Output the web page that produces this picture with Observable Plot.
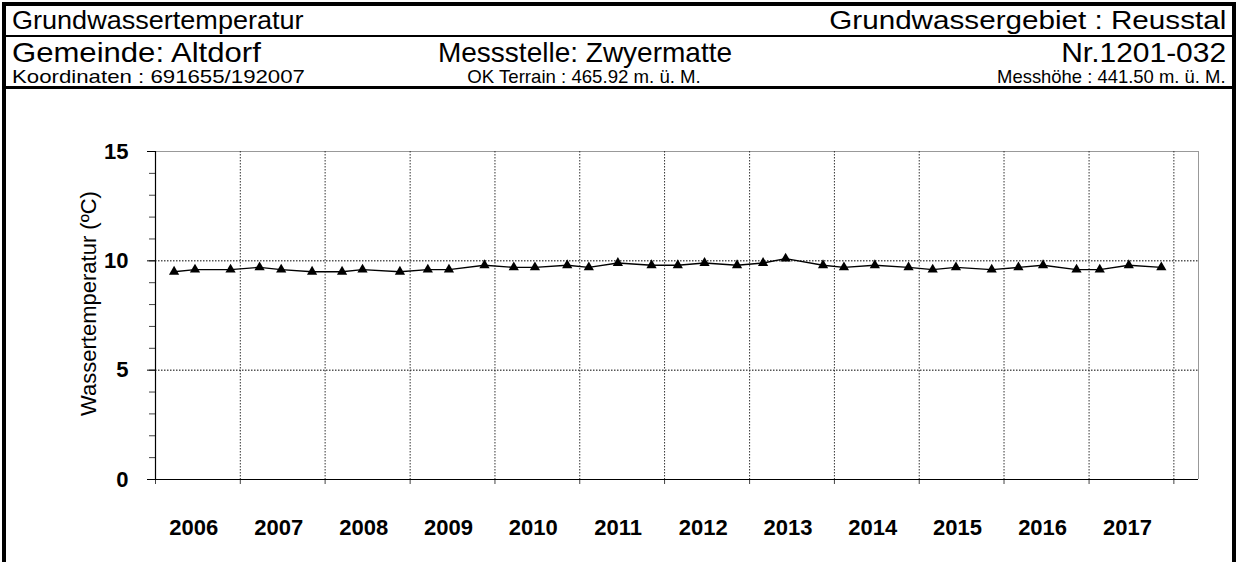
<!DOCTYPE html>
<html>
<head>
<meta charset="utf-8">
<script src="https://cdn.jsdelivr.net/npm/d3@7"></script>
<script src="https://cdn.jsdelivr.net/npm/@observablehq/plot@0.6"></script>
<style>
  body { margin: 0; background: #fff; font-family: Arial, "Liberation Sans", sans-serif; }
  #wrap { position: relative; width: 1238px; height: 562px; overflow: hidden; background: #fff; }
  .hl { position: absolute; background: #000; z-index: 2; }
  .t { position: absolute; white-space: nowrap; color: #000; line-height: 1; z-index: 2; }
  .l { transform-origin: left center; }
  .r { transform-origin: right center; }
  #chart { position: absolute; left: 0; top: 90px; z-index: 1; }
  #chart svg { display: block; }
</style>
</head>
<body>
<div id="wrap">
  <div id="chart"></div>
  <div class="hl" style="left:2px;top:2px;width:1234px;height:4px"></div>
  <div class="hl" style="left:2px;top:2px;width:4px;height:560px"></div>
  <div class="hl" style="left:1232px;top:2px;width:4px;height:560px"></div>
  <div class="hl" style="left:2px;top:35px;width:1234px;height:2px"></div>
  <div class="hl" style="left:2px;top:86px;width:1234px;height:3px"></div>

  <div class="t l" style="left:12px;top:7px;font-size:26px;transform:scaleX(1.04)">Grundwassertemperatur</div>
  <div class="t r" style="right:12px;top:7px;font-size:26px;transform:scaleX(1.14)">Grundwassergebiet : Reusstal</div>

  <div class="t l" style="left:12px;top:39px;font-size:28px;transform:scaleX(1.11)">Gemeinde: Altdorf</div>
  <div class="t" style="left:585px;top:39px;font-size:28px;transform:translateX(-50%) scaleX(1.0)">Messstelle: Zwyermatte</div>
  <div class="t r" style="right:12px;top:39px;font-size:28px;transform:scaleX(1.07)">Nr.1201-032</div>

  <div class="t l" style="left:12px;top:67px;font-size:19px;transform:scaleX(1.17)">Koordinaten : 691655/192007</div>
  <div class="t" style="left:584px;top:67px;font-size:19px;transform:translateX(-50%) scaleX(0.98)">OK Terrain : 465.92 m. ü. M.</div>
  <div class="t r" style="right:12px;top:67px;font-size:19px;transform:scaleX(0.97)">Messhöhe : 441.50 m. ü. M.</div>
</div>
<script>
// ---- data ----
const dates = [
  "2006-03-22","2006-06-20","2006-11-20",
  "2007-03-25","2007-06-26","2007-11-06",
  "2008-03-14","2008-06-10","2008-11-18",
  "2009-03-18","2009-06-17","2009-11-17",
  "2010-03-23","2010-06-22","2010-11-08",
  "2011-02-09","2011-06-14","2011-11-06",
  "2012-02-27","2012-06-21","2012-11-08",
  "2013-02-28","2013-06-05","2013-11-13",
  "2014-02-11","2014-06-24","2014-11-16",
  "2015-02-28","2015-06-08","2015-11-09",
  "2016-03-03","2016-06-17","2016-11-08",
  "2017-02-16","2017-06-21","2017-11-08"
];
const temps = [
  9.5, 9.6, 9.6,
  9.7, 9.6, 9.5,
  9.5, 9.6, 9.5,
  9.6, 9.6, 9.8,
  9.7, 9.7, 9.8,
  9.7, 9.9, 9.8,
  9.8, 9.9, 9.8,
  9.9, 10.1, 9.8,
  9.7, 9.8, 9.7,
  9.6, 9.7, 9.6,
  9.7, 9.8, 9.6,
  9.6, 9.8, 9.7
];
const years = [2006, 2007, 2008, 2009, 2010, 2011, 2012, 2013, 2014, 2015, 2016, 2017];
const yMajorTicks = [0, 5, 10, 15];
const yMinorTicks = [0,1,2,3,4,5,6,7,8,9,10,11,12,13,14,15];
const yLabel = "Wassertemperatur (ºC)";

// ---- build ----
const data = dates.map((d, i) => ({ date: new Date(d + "T00:00:00Z"), temp: temps[i] }));
const xStart = new Date(Date.UTC(2006, 0, 1));
const xEnd = new Date(Date.UTC(2018, 3, 17));
const yearStarts = years.concat([2018]).map(y => new Date(Date.UTC(y, 0, 1)));
const yearMids = years.map(y => new Date(Date.UTC(y, 5, 15)));

const chart = Plot.plot({
  width: 1238,
  height: 472,
  marginLeft: 155,
  marginRight: 40,
  marginTop: 61,
  marginBottom: 83,
  x: { type: "utc", domain: [xStart, xEnd] },
  y: { domain: [0, 15] },
  style: { fontFamily: "Arial, 'Liberation Sans', sans-serif", color: "#000", background: "#fff", overflow: "visible" },
  marks: [
    Plot.ruleY([5, 10], { stroke: "#000", strokeWidth: 1, strokeDasharray: "1.5,1.5" }),
    Plot.ruleY([15], { stroke: "#999", strokeWidth: 1 }),
    Plot.ruleX(yearStarts.slice(1), { stroke: "#333", strokeWidth: 1, strokeDasharray: "1.5,1.5" }),
    Plot.ruleX([xEnd], { stroke: "#999", strokeWidth: 1 }),
    Plot.axisY({ ticks: yMinorTicks, tickSize: 6, tickFormat: () => "", label: null, stroke: "#444" }),
    Plot.axisY({ ticks: yMajorTicks, tickSize: 8, tickPadding: 19, fontSize: 22, fontWeight: "bold", label: null }),
    Plot.axisX({ ticks: yearStarts, tickSize: 5, tickFormat: () => "", label: null, stroke: "#444" }),
    Plot.axisX({ ticks: yearMids, tickSize: 0, tickPadding: 40, tickFormat: d => String(d.getUTCFullYear()), fontSize: 22, fontWeight: "bold", label: null }),
    Plot.ruleX([xStart], { stroke: "#000", strokeWidth: 1.2 }),
    Plot.ruleY([0], { stroke: "#000", strokeWidth: 1.2 }),
    Plot.line(data, { x: "date", y: "temp", stroke: "#000", strokeWidth: 1.4 }),
    Plot.dot(data, { x: "date", y: "temp", symbol: "triangle", r: 3.8, fill: "#000", stroke: "none" }),
    Plot.text([yLabel], { frameAnchor: "left", textAnchor: "middle", rotate: -90, dx: -67, dy: -12, fontSize: 22, fill: "#000" })
  ]
});
document.getElementById("chart").appendChild(chart);
</script>
</body>
</html>
